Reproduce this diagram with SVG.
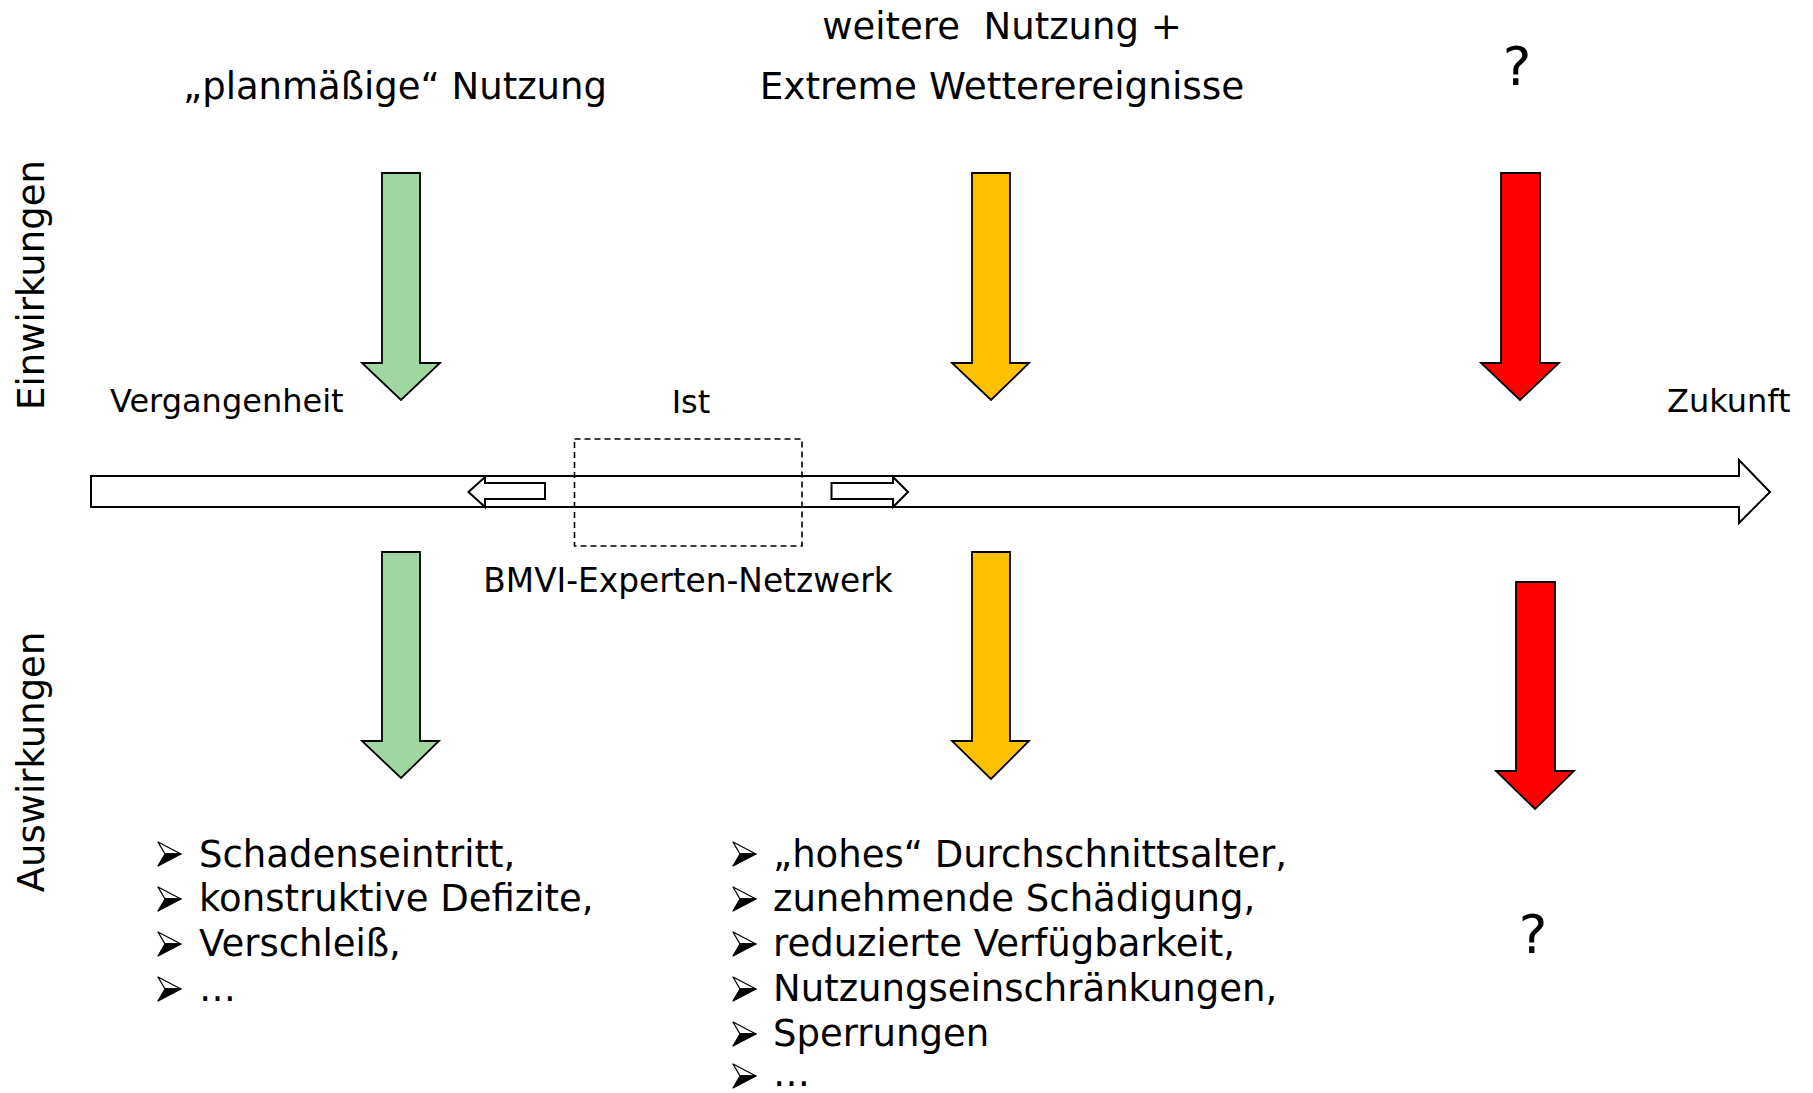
<svg xmlns="http://www.w3.org/2000/svg" xmlns:xlink="http://www.w3.org/1999/xlink" width="1813" height="1093" viewBox="0 0 1813 1093">
<style>
  text { font-family: "DejaVu Sans", "Liberation Sans", sans-serif; fill: #000; }
  .big { font-size: 37px; }
  .mid { font-size: 32px; }
  .q { font-size: 54px; }
  .list { font-size: 37px; }
  .arr { stroke: #000; stroke-width: 1.8; stroke-linejoin: miter; }
  .green { fill: #A0D6A0; }
  .orange { fill: #FFC000; }
  .red { fill: #FF0000; }
  .tl { fill: #fff; stroke: #000; stroke-width: 2; }
</style>
<defs>
  <g id="bullet">
    <polygon points="0,0 23,12 7,12" fill="#fff" stroke="#000" stroke-width="1.3" stroke-linejoin="round"/>
    <polygon points="7,12 23,12 0,24" fill="#000" stroke="#000" stroke-width="1.3" stroke-linejoin="round"/>
  </g>
</defs>
<rect width="1813" height="1093" fill="#fff"/>

<g id="side-labels">
  <text class="big" transform="translate(44,285) rotate(-90)" text-anchor="middle">Einwirkungen</text>
  <text class="big" transform="translate(44,762) rotate(-90)" text-anchor="middle">Auswirkungen</text>
</g>

<g id="headings">
  <text class="big" x="395" y="99" text-anchor="middle">„planmäßige“ Nutzung</text>
  <text class="big" x="1002" y="39" text-anchor="middle" xml:space="preserve">weitere  Nutzung +</text>
  <text class="big" x="1002" y="99" text-anchor="middle" style="font-size:37.4px">Extreme Wetterereignisse</text>
  <text class="q" x="1517" y="85" text-anchor="middle">?</text>
</g>

<g id="connectors">
  <g id="timeline">
    <polygon class="tl" points="91,476 1739,476 1739,460 1770,492 1739,523 1739,507 91,507"/>
    <polygon class="tl" stroke-width="1.6" points="468.5,492 485,477 485,483 545,483 545,499 485,499 485,507"/>
    <polygon class="tl" stroke-width="1.6" points="831.5,483 893,483 893,477 908,492 893,507 893,499 831.5,499"/>
  </g>
  <g id="arrows-top">
    <polygon class="arr green" points="382,173 420,173 420,363 440,363 401,400 362,363 382,363"/>
    <polygon class="arr orange" points="972,173 1010,173 1010,363 1029,363 991,400 952,363 972,363"/>
    <polygon class="arr red" points="1501,173 1540,173 1540,363 1559,363 1520,400 1481,363 1501,363"/>
  </g>
  <g id="arrows-bottom">
    <polygon class="arr green" points="382,552 420,552 420,741 439,741 401,778 362,741 382,741"/>
    <polygon class="arr orange" points="972,552 1010,552 1010,741 1029,741 991,779 952,741 972,741"/>
    <polygon class="arr red" points="1516,582 1555,582 1555,771 1574,771 1535,809 1496,771 1516,771"/>
  </g>
</g>

<g id="timeline-labels">
  <text class="mid" x="110" y="412">Vergangenheit</text>
  <text class="mid" x="691" y="413" text-anchor="middle">Ist</text>
  <text class="mid" x="1667" y="412">Zukunft</text>
</g>

<g id="ist-box">
  <rect x="574.5" y="439" width="227.5" height="107" fill="none" stroke="#000" stroke-width="1.6" stroke-dasharray="6,4"/>
  <text class="mid" x="688" y="592" text-anchor="middle" style="font-size:32.8px">BMVI-Experten-Netzwerk</text>
</g>

<g id="list-left">
  <use xlink:href="#bullet" x="158" y="842"/>
  <use xlink:href="#bullet" x="158" y="887"/>
  <use xlink:href="#bullet" x="158" y="932"/>
  <use xlink:href="#bullet" x="158" y="977"/>
  <text class="list" x="199" y="867">Schadenseintritt,</text>
  <text class="list" x="199" y="911">konstruktive Defizite,</text>
  <text class="list" x="199" y="956">Verschleiß,</text>
  <text class="list" x="199" y="1001">…</text>
</g>

<g id="list-right">
  <use xlink:href="#bullet" x="733" y="842"/>
  <use xlink:href="#bullet" x="733" y="887"/>
  <use xlink:href="#bullet" x="733" y="932"/>
  <use xlink:href="#bullet" x="733" y="977"/>
  <use xlink:href="#bullet" x="733" y="1022"/>
  <use xlink:href="#bullet" x="733" y="1064"/>
  <text class="list" x="773" y="867">„hohes“ Durchschnittsalter,</text>
  <text class="list" x="773" y="911">zunehmende Schädigung,</text>
  <text class="list" x="773" y="956">reduzierte Verfügbarkeit,</text>
  <text class="list" x="773" y="1001">Nutzungseinschränkungen,</text>
  <text class="list" x="773" y="1046">Sperrungen</text>
  <text class="list" x="773" y="1086">…</text>
</g>

<g id="future-question">
  <text class="q" x="1533" y="953" text-anchor="middle">?</text>
</g>
</svg>
